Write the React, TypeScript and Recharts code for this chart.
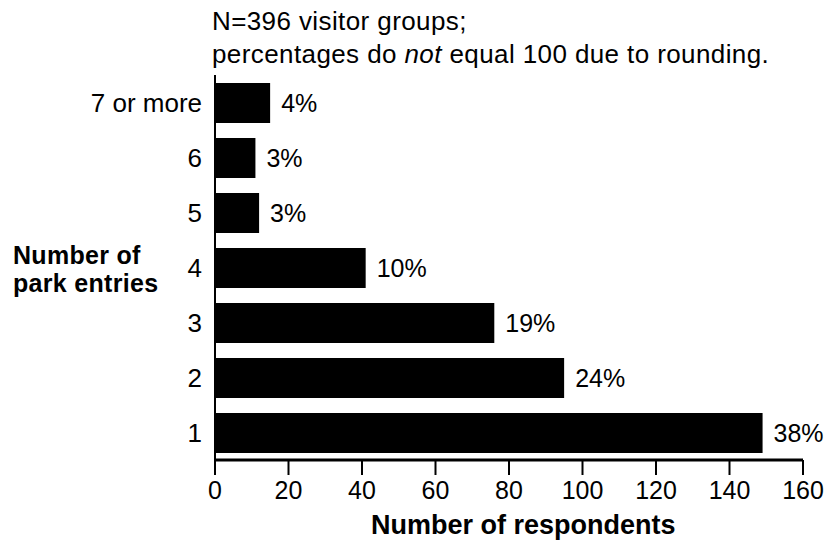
import { BarChart, Bar, XAxis, YAxis, LabelList } from "recharts";

const categories = ["7 or more", "6", "5", "4", "3", "2", "1"];
const respondents = [15, 11, 12, 41, 76, 95, 149];
const percentLabels = ["4%", "3%", "3%", "10%", "19%", "24%", "38%"];
const xTicks = [0, 20, 40, 60, 80, 100, 120, 140, 160];

const FONT = "'Liberation Sans', Arial, Helvetica, sans-serif";

const data = categories.map((name, i) => ({
  name,
  value: respondents[i],
  pct: percentLabels[i],
}));

const App = () => {
  return (
    <div
      style={{
        position: "absolute",
        left: 0,
        top: 0,
        width: 829,
        height: 545,
        background: "#fff",
        fontFamily: FONT,
        color: "#000",
      }}
    >
      <div
        style={{
          position: "absolute",
          left: 212,
          top: 5,
          fontSize: 26,
          letterSpacing: 0.4,
          lineHeight: "33px",
          whiteSpace: "nowrap",
        }}
      >
        N=396 visitor groups;
        <br />
        percentages do <i>not</i> equal 100 due to rounding.
      </div>
      <div
        style={{
          position: "absolute",
          left: 13,
          top: 241,
          fontSize: 25,
          letterSpacing: 0.3,
          fontWeight: "bold",
          lineHeight: "28px",
          whiteSpace: "nowrap",
        }}
      >
        Number of
        <br />
        park entries
      </div>
      <div
        style={{
          position: "absolute",
          left: 371,
          top: 510,
          fontSize: 27,
          fontWeight: "bold",
          lineHeight: "30px",
          whiteSpace: "nowrap",
        }}
      >
        Number of respondents
      </div>
      <BarChart
        width={829}
        height={545}
        data={data}
        layout="vertical"
        margin={{ top: 75, right: 26, left: 15, bottom: 45 }}
      >
        <XAxis
          type="number"
          domain={[0, 160]}
          ticks={xTicks}
          interval={0}
          height={40}
          axisLine={{ stroke: "#000", strokeWidth: 3 }}
          tickLine={{ stroke: "#000", strokeWidth: 2 }}
          tickSize={15}
          tickMargin={6}
          tick={{ fill: "#000", fontSize: 25, fontFamily: FONT }}
        />
        <YAxis
          type="category"
          dataKey="name"
          width={200}
          axisLine={{ stroke: "#000", strokeWidth: 2 }}
          tickLine={false}
          tickSize={0}
          tickMargin={13}
          tick={{ fill: "#000", fontSize: 26, fontFamily: FONT }}
        />
        <Bar dataKey="value" fill="#000" barSize={40} isAnimationActive={false}>
          <LabelList
            dataKey="pct"
            position="right"
            offset={11}
            fill="#000"
            fontSize={25}
            fontFamily={FONT}
          />
        </Bar>
      </BarChart>
    </div>
  );
};

export default App;
